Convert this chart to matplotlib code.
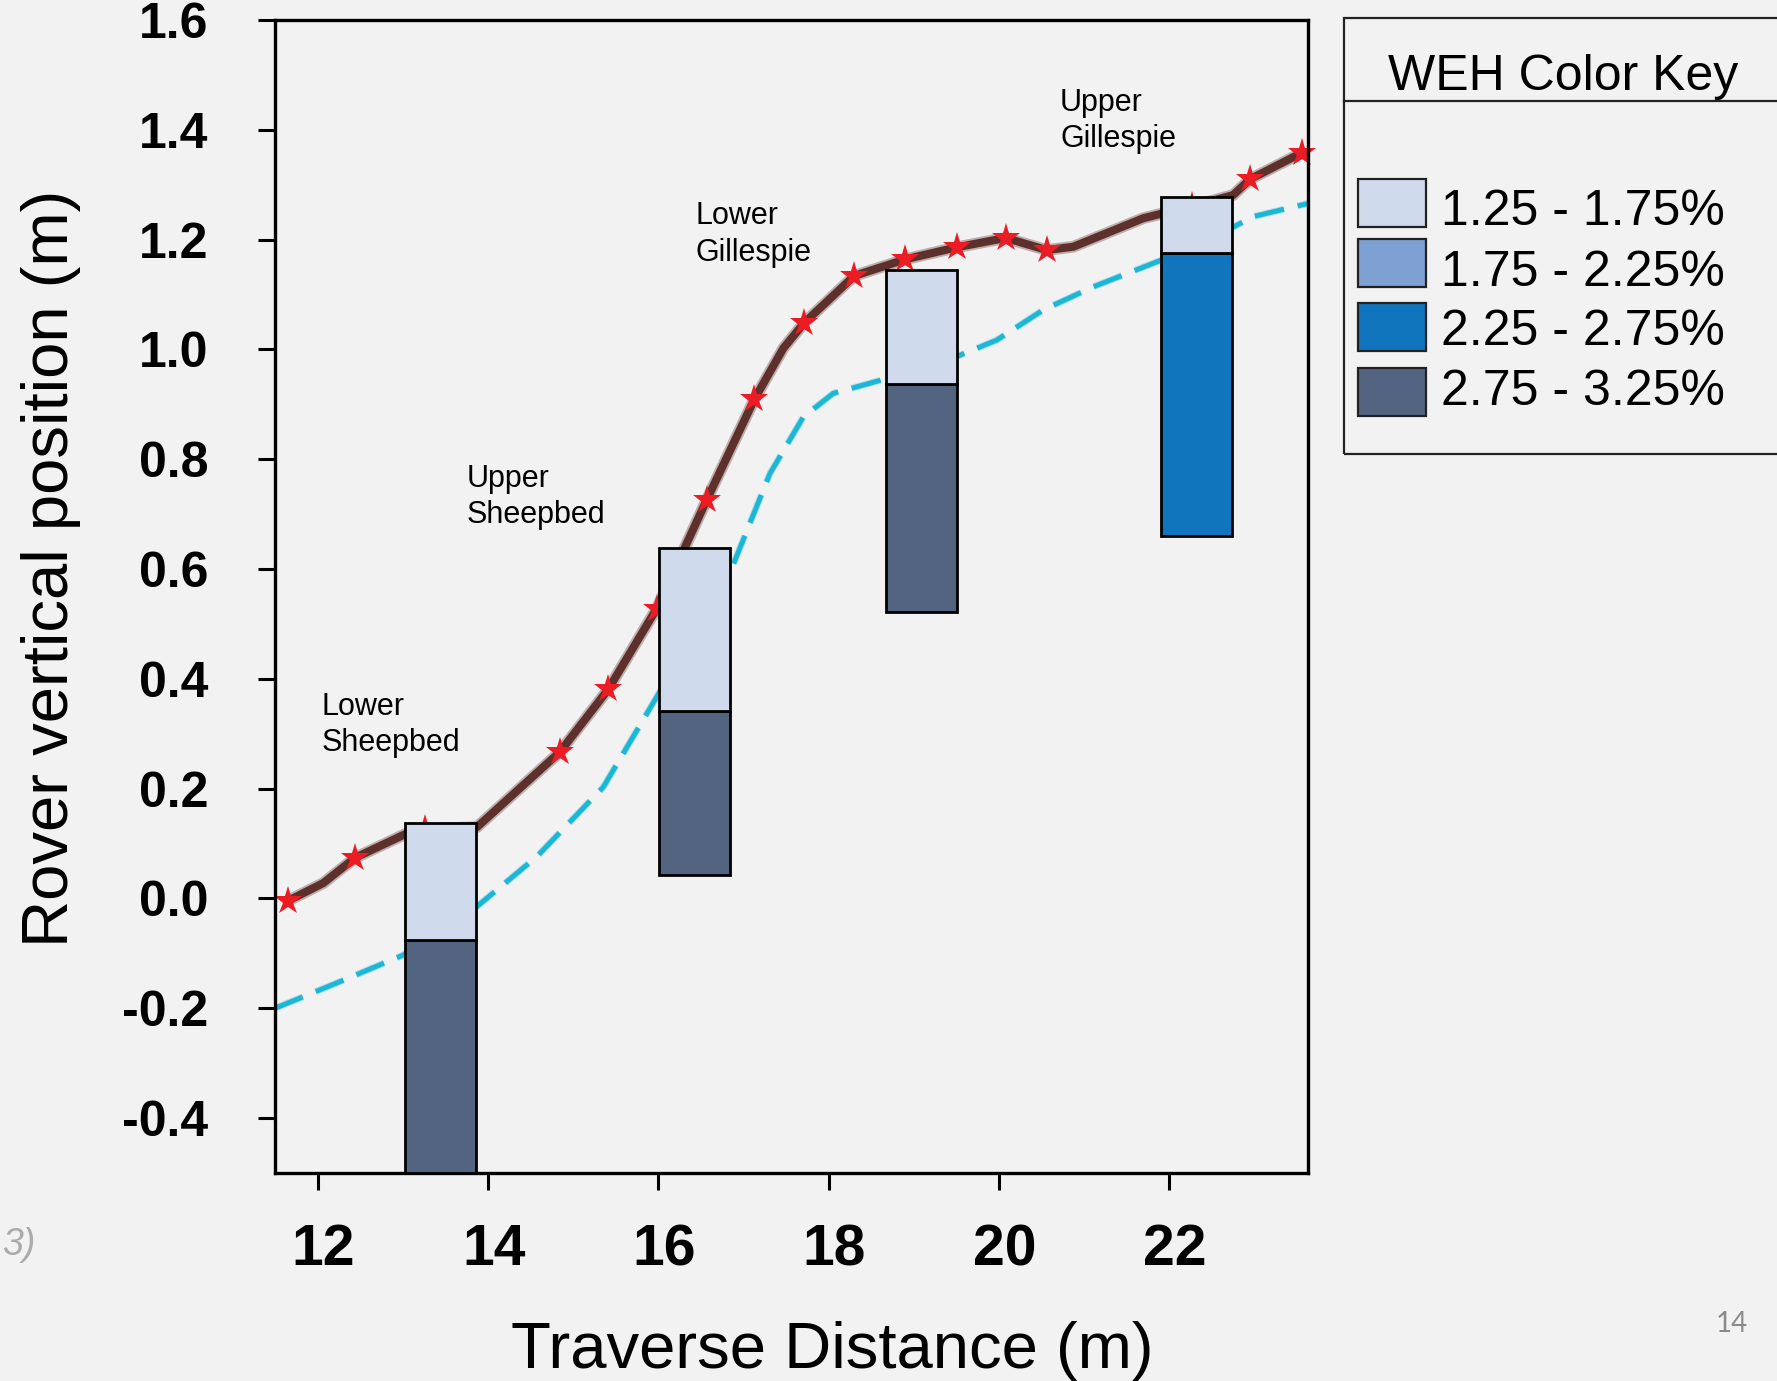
import matplotlib
matplotlib.use('Agg')
import matplotlib.pyplot as plt
from matplotlib.patches import Rectangle
from matplotlib.lines import Line2D
from matplotlib.transforms import ScaledTranslation
import matplotlib.patheffects as pe

plt.rcParams['font.family'] = ['Liberation Sans', 'DejaVu Sans']

# ---------------- data ----------------
# Rover elevation profile (brown line)
path_x = [11.651, 12.062, 12.435, 13.022, 13.257, 13.868, 14.844, 15.411, 15.980, 16.568,
          17.127, 17.468, 17.711, 18.302, 18.898, 19.505, 20.081, 20.563, 20.875, 21.698,
          22.270, 22.752, 22.952, 23.559]
path_y = [-0.004, 0.028, 0.074, 0.117, 0.126, 0.130, 0.267, 0.381, 0.528, 0.726,
          0.909, 1.002, 1.048, 1.134, 1.164, 1.186, 1.203, 1.181, 1.187, 1.239,
          1.261, 1.281, 1.310, 1.358]
# Measurement stations (red stars)
station_x = [11.651, 12.435, 13.257, 14.844, 15.411, 15.980, 16.568, 17.127, 17.711, 18.302,
             18.898, 19.505, 20.081, 20.563, 22.270, 22.952, 23.559]
station_y = [-0.004, 0.074, 0.126, 0.267, 0.381, 0.528, 0.726, 0.909, 1.048, 1.134,
             1.164, 1.186, 1.203, 1.181, 1.261, 1.310, 1.358]
# Reference (cyan dashed) line
ref_x = [11.495, 12.297, 13.002, 13.865, 14.570, 15.353, 15.980, 16.861, 17.311, 17.703,
         18.055, 18.683, 19.505, 19.975, 20.523, 21.110, 21.914, 22.756, 22.991, 23.637]
ref_y = [-0.200, -0.149, -0.103, -0.015, 0.076, 0.203, 0.367, 0.601, 0.774, 0.877,
         0.920, 0.947, 0.987, 1.017, 1.072, 1.114, 1.163, 1.223, 1.242, 1.266]

# WEH bars
bar_x = [13.44, 16.42, 19.09, 22.325]
bar_top = [0.138, 0.639, 1.145, 1.278]
bar_split = [-0.075, 0.341, 0.937, 1.175]
bar_bottom = [-0.5, 0.043, 0.522, 0.660]
upper_class = [0, 0, 0, 0]
lower_class = [3, 3, 3, 2]

# Colour key
key_labels = ['1.25 - 1.75%', '1.75 - 2.25%', '2.25 - 2.75%', '2.75 - 3.25%']
key_colors = ['#CFDAEC', '#7FA0D2', '#1075BC', '#536480']

# Section labels (anchored at baseline of their last line)
section_names = ['Lower\nSheepbed', 'Upper\nSheepbed', 'Lower\nGillespie', 'Upper\nGillespie']
label_x = [12.04, 13.75, 16.44, 20.72]
label_y = [0.2685, 0.683, 1.1616, 1.3687]

x_ticks = [12, 14, 16, 18, 20, 22]
y_ticks = [-0.4, -0.2, 0.0, 0.2, 0.4, 0.6, 0.8, 1.0, 1.2, 1.4, 1.6]
y_tick_labels = ['-0.4', '-0.2', '0.0', '0.2', '0.4', '0.6', '0.8', '1.0', '1.2', '1.4', '1.6']

# ---------------- figure ----------------
W, H = 1777, 1381
BG = '#F2F2F2'
fig = plt.figure(figsize=(W / 100, H / 100), dpi=100, facecolor=BG)


def fx(px):
    return px / W


def fy(py):
    return 1 - py / H


ax = fig.add_axes([fx(275), fy(1173), (1308 - 275) / W, (1173 - 20) / H])
ax.set_facecolor(BG)

brown = '#5E302C'
ax.plot(path_x, path_y, color=brown, lw=5.8, solid_capstyle='round', zorder=2,
        path_effects=[pe.Stroke(linewidth=8.5, foreground=brown, alpha=0.35), pe.Normal()])
ax.plot(ref_x, ref_y, color='#1DB7D6', lw=3.6, dashes=(6.0, 2.8), zorder=2,
        path_effects=[pe.Stroke(linewidth=5, foreground='#1DB7D6', alpha=0.3), pe.Normal()])
ax.plot(station_x, station_y, ls='none', marker='*', ms=21, color='#EC1C24',
        markeredgewidth=0, zorder=2.5, clip_on=False)

bar_w = 0.835
for i in range(len(bar_x)):
    ax.bar(bar_x[i], bar_split[i] - bar_bottom[i], bottom=bar_bottom[i], width=bar_w,
           color=key_colors[lower_class[i]], edgecolor='black', linewidth=2.0, zorder=3)
    ax.bar(bar_x[i], bar_top[i] - bar_split[i], bottom=bar_split[i], width=bar_w,
           color=key_colors[upper_class[i]], edgecolor='black', linewidth=2.0, zorder=3)

for name, lx, ly in zip(section_names, label_x, label_y):
    ax.text(lx, ly, name, fontsize=22, ha='left', va='baseline', color='black',
            linespacing=1.28, zorder=4)

ax.set_xlim(11.495, 23.633)
ax.set_ylim(-0.5, 1.6)
ax.set_xticks(x_ticks)
ax.set_xticklabels([str(t) for t in x_ticks], fontsize=41, fontweight='bold')
ax.set_yticks(y_ticks)
ax.set_yticklabels(y_tick_labels, fontsize=36, fontweight='bold')
ax.tick_params(axis='x', direction='out', length=12, width=2.2, pad=24)
ax.tick_params(axis='y', direction='out', length=12, width=2.2, pad=36)
shift = ScaledTranslation(4 / 72, 0, fig.dpi_scale_trans)
for lbl in ax.get_xticklabels():
    lbl.set_transform(lbl.get_transform() + shift)
for s in ax.spines.values():
    s.set_linewidth(2.4)
    s.set_color('black')

# axis titles
fig.text(fx(832), fy(1368), 'Traverse Distance (m)', fontsize=47, ha='center', va='baseline')
fig.text(fx(51), fy(568), 'Rover vertical position (m)', fontsize=47, rotation=90,
         ha='center', va='center')

# ---------------- colour key box ----------------
fig.add_artist(Rectangle((fx(1344), fy(454)), (W + 10 - 1344) / W, (454 - 18) / H,
                         transform=fig.transFigure, facecolor='none', edgecolor='#222222',
                         linewidth=1.6, clip_on=False))
fig.add_artist(Line2D([fx(1344), fx(W + 5)], [fy(101), fy(101)], transform=fig.transFigure,
                      color='#222222', linewidth=1.6))
fig.text(fx(1388), fy(90), 'WEH Color Key', fontsize=36, ha='left', va='baseline')
patch_tops = [179, 239, 303, 368]
text_base = [225, 286, 345, 405]
for lab, col, pt, tb in zip(key_labels, key_colors, patch_tops, text_base):
    fig.add_artist(Rectangle((fx(1358), fy(pt + 48)), 68 / W, 48 / H, transform=fig.transFigure,
                             facecolor=col, edgecolor='#222222', linewidth=1.6))
    fig.text(fx(1441), fy(tb), lab, fontsize=36, ha='left', va='baseline')

# slide remnants
fig.text(fx(2), fy(1255), '3)', fontsize=27, style='italic', color='#ABABAB',
         ha='left', va='baseline')
fig.text(fx(1716), fy(1332), '14', fontsize=20, color='#8A8A8A', ha='left', va='baseline',
         family=['Lato', 'DejaVu Sans'])

fig.savefig('out.png', dpi=100, facecolor=BG)
